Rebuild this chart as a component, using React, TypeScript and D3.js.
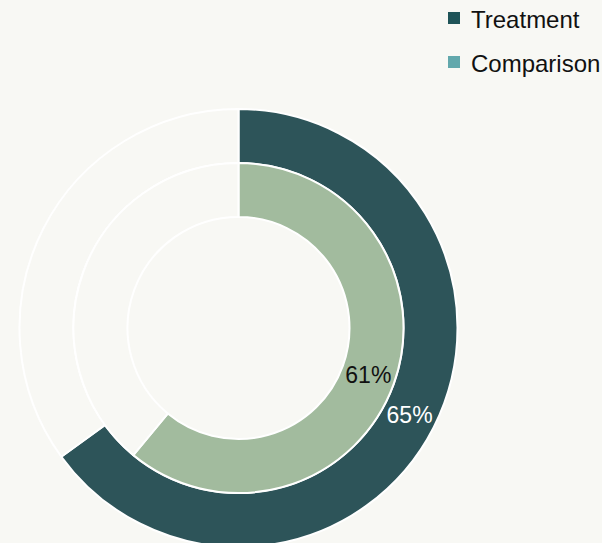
import React from 'react';
import * as d3 from 'd3';

const groups = ['Treatment', 'Comparison'];
const percents = [65, 61];
const ringColors = ['#2d5459', '#a2bb9e'];
const legendColors = ['#1f5458', '#62a8ac'];
const labelColors = ['#ffffff', '#111111'];

const W = 602;
const H = 543;
const BG = '#f8f8f4';

export default function App() {
  const cx = 238.5;
  const cy = 328;
  const ring = d3.scaleLinear().domain([0, 1, 2]).range([219, 165, 111]);

  const pie = d3.pie<number>().sort(null).value(d => d);

  return (
    <svg width={W} height={H} style={{ position: 'absolute', left: 0, top: 0, background: BG }}
      fontFamily="'Liberation Sans', Arial, sans-serif">
      <rect width={W} height={H} fill={BG} />
      <g transform={`translate(${cx},${cy})`}>
        {groups.map((g, i) => {
          const arc = d3.arc<d3.PieArcDatum<number>>()
            .outerRadius(ring(i))
            .innerRadius(ring(i + 1));
          const slices = pie([percents[i], 100 - percents[i]]);
          return (
            <g key={g}>
              {slices.map((s, j) => (
                <path key={j} d={arc(s) || ''} fill={j === 0 ? ringColors[i] : BG}
                  stroke="#ffffff" strokeWidth={2} />
              ))}
            </g>
          );
        })}
        {groups.map((g, i) => {
          const arc = d3.arc<d3.PieArcDatum<number>>()
            .outerRadius(ring(i))
            .innerRadius(ring(i + 1));
          const s = pie([percents[i], 100 - percents[i]])[0];
          const [x, y] = arc.centroid(s);
          return (
            <text key={g} x={x} y={y} dy="0.36em" textAnchor="middle" fontSize={23}
              fill={labelColors[i]}>{`${percents[i]}%`}</text>
          );
        })}
      </g>
      <g>
        {groups.map((g, i) => (
          <g key={g} transform={`translate(448,${12 + i * 44})`}>
            <rect width={12} height={12} fill={legendColors[i]} />
            <text x={23} y={15.5} fontSize={24} fill="#111111">{g}</text>
          </g>
        ))}
      </g>
    </svg>
  );
}
